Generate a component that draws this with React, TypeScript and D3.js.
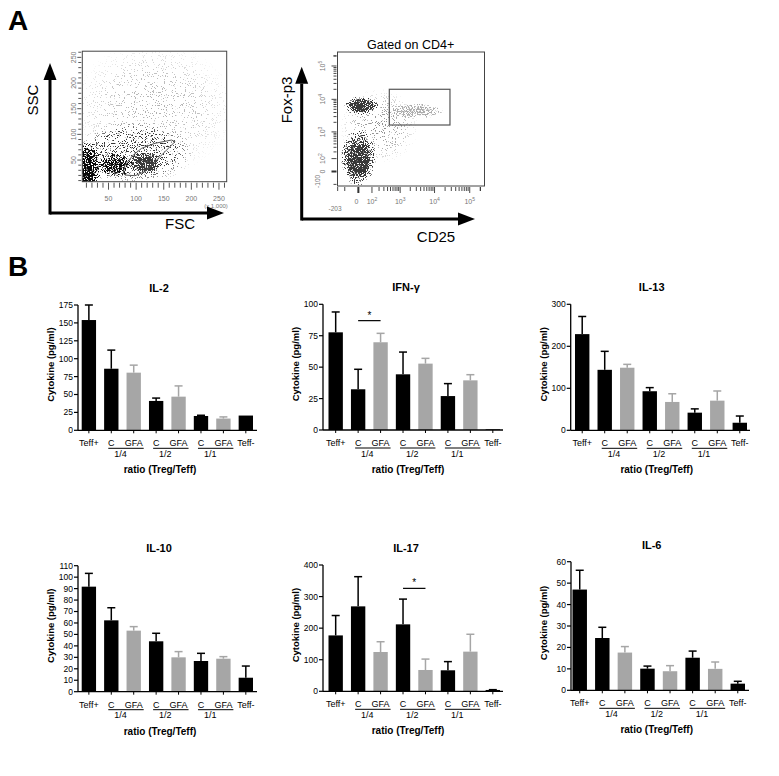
import React from "react";
import * as d3 from "d3";

const FONT = "'Liberation Sans', Arial, Helvetica, sans-serif";

// ---------------- Panel B data ----------------
const groupKeys = ["Teff+", "C 1/4", "GFA 1/4", "C 1/2", "GFA 1/2", "C 1/1", "GFA 1/1", "Teff-"];
const groupLabels = ["Teff+", "C", "GFA", "C", "GFA", "C", "GFA", "Teff-"];
const groupIsGFA = [false, false, true, false, true, false, true, false];
const ratioLabels = ["1/4", "1/2", "1/1"];

const il2Mean = [154, 86, 80.5, 41, 47, 20, 16.4, 20.6];
const il2Err = [21, 26, 10.5, 4, 15, 1, 2.3, 0];
const il2Ticks = [0, 25, 50, 75, 100, 125, 150, 175];

const ifnMean = [77.7, 32.4, 69.8, 44.3, 52.8, 27, 39.5, 0.5];
const ifnErr = [16.2, 15.9, 7.1, 17.7, 4.2, 9.9, 4.5, 0];
const ifnTicks = [0, 25, 50, 75, 100];
const ifnSig = [1, 2, 87];

const il13Mean = [229, 144, 149, 93, 67.5, 42, 70.6, 18];
const il13Err = [42, 44, 8, 8.6, 19.5, 9, 23, 16];
const il13Ticks = [0, 100, 200, 300];

const il10Mean = [91.7, 62.3, 53.3, 44, 30, 26.8, 28.8, 12.2];
const il10Err = [11.6, 11, 3.5, 7, 5, 6.7, 1.8, 10.2];
const il10Ticks = [0, 10, 20, 30, 40, 50, 60, 70, 80, 90, 100, 110];

const il17Mean = [177, 269, 124.5, 212, 67.5, 66.5, 125.6, 4.2];
const il17Err = [63, 94, 32.5, 80, 34.5, 27.5, 55, 1];
const il17Ticks = [0, 100, 200, 300, 400];
const il17Sig = [3, 4, 326];

const il6Mean = [47, 24.4, 17.6, 10.1, 8.9, 15.2, 10, 3.1];
const il6Err = [9, 5, 2.8, 1.2, 2.6, 3.1, 3.2, 1.1];
const il6Ticks = [0, 10, 20, 30, 40, 50, 60];

// ---------------- Panel A data ----------------
// FSC / SSC (x 1,000): cloud centres, spreads, relative density
const fscDenseClusters = [
  [5, 22, 16, 42, 1.0],
  [13, 34, 25, 55, 1.0],
  [62, 40, 35, 24, 0.85],
];
const fscCloudClusters = [
  [116, 44, 32, 24, 1.0],
  [118, 42, 22, 16, 1.0],
  [95, 62, 110, 62, 0.28],
  [130, 150, 150, 130, 0.07],
];
const fscGate = [
  [76.7, 24.1], [79.8, 40.3], [94.8, 59.8], [110, 72.8], [134.1, 82.6], [164.3, 89],
  [170.3, 85.7], [152.2, 66.2], [134.1, 46.7], [116, 27.3], [97.9, 19.5], [79.8, 20.8],
];
const fscTicks = [50, 100, 150, 200, 250];

// CD25 / Foxp3: centres (data), spreads (symlog units), density
const cd25Clusters = [
  [13, 6460, 1.15, 0.65, 1.0],
  [10, 6460, 0.8, 0.45, 1.0],
  [0, 107, 1.15, 2.0, 1.0],
  [0, 60, 0.85, 1.3, 1.0],
  [200, 1500, 2.6, 2.6, 0.1],
];
const cd25GatedClusters = [[2750, 4450, 1.9, 0.55, 0.75]];
const cd25Gate = [457, 27500];
const foxp3Gate = [1650, 20060];

type Layout = {
  axisX: number; axisEnd: number; yTop: number; y0: number; barA: number; barB: number;
  titleX: number; titleY: number; ratioX: number;
};

const L_IL2: Layout = { axisX: 78, axisEnd: 257, yTop: 305, y0: 430.3, barA: 81.7, barB: 253, titleX: 159, titleY: 292, ratioX: 160 };
const L_IFN: Layout = { axisX: 323, axisEnd: 503, yTop: 304.3, y0: 430, barA: 328.5, barB: 500, titleX: 406, titleY: 291, ratioX: 408 };
const L_IL13: Layout = { axisX: 570.7, axisEnd: 750, yTop: 304.3, y0: 430.3, barA: 575, barB: 747, titleX: 651.7, titleY: 291, ratioX: 656.7 };
const L_IL10: Layout = { axisX: 78, axisEnd: 257, yTop: 565.7, y0: 691.7, barA: 81.7, barB: 253, titleX: 159, titleY: 552, ratioX: 160 };
const L_IL17: Layout = { axisX: 323, axisEnd: 503, yTop: 565, y0: 691.3, barA: 328.5, barB: 500, titleX: 406, titleY: 552, ratioX: 408 };
const L_IL6: Layout = { axisX: 571, axisEnd: 749, yTop: 561.7, y0: 690.3, barA: 572.5, barB: 745, titleX: 651.7, titleY: 549, ratioX: 656.7 };

const BLACK = "#000";
const GRAY = "#a6a6a6";

function BarPanel(props: { title: React.ReactNode; mean: number[]; err: number[]; ticks: number[]; sig?: number[]; L: Layout }) {
  const { title, mean, err, ticks, sig, L } = props;
  const y = d3.scaleLinear().domain([0, ticks[ticks.length - 1]]).range([L.y0, L.yTop]);
  const x = d3.scaleBand().domain(groupKeys).range([L.barA, L.barB]).paddingInner(0.36).paddingOuter(0);
  const bw = x.bandwidth();
  const cx = (i: number) => (x(groupKeys[i]) as number) + bw / 2;
  return (
    <g fontFamily={FONT}>
      <text x={L.titleX} y={L.titleY} textAnchor="middle" fontWeight="bold" fontSize={11}>{title}</text>
      {mean.map((m, i) => (
        <rect key={"b" + i} x={x(groupKeys[i])} y={y(m)} width={bw} height={L.y0 - y(m)} fill={groupIsGFA[i] ? GRAY : BLACK} />
      ))}
      {mean.map((m, i) =>
        err[i] > 0.4 ? (
          <g key={"e" + i} stroke={groupIsGFA[i] ? GRAY : BLACK} strokeWidth={1.5}>
            <line x1={cx(i)} x2={cx(i)} y1={y(m)} y2={y(m + err[i])} />
            <line x1={cx(i) - 4} x2={cx(i) + 4} y1={y(m + err[i])} y2={y(m + err[i])} />
          </g>
        ) : null
      )}
      <line x1={L.axisX} x2={L.axisX} y1={L.y0} y2={L.yTop} stroke="#000" strokeWidth={1.3} />
      {ticks.map((t) => (
        <g key={"t" + t}>
          <line x1={L.axisX - 4} x2={L.axisX} y1={y(t)} y2={y(t)} stroke="#000" strokeWidth={1.2} />
          <text x={L.axisX - 5} y={y(t)} dy="0.35em" textAnchor="end" fontSize={8.5}>{t}</text>
        </g>
      ))}
      <line x1={L.axisX} x2={L.axisEnd} y1={L.y0} y2={L.y0} stroke="#000" strokeWidth={1.3} />
      {groupKeys.map((k, i) => (
        <g key={"x" + k}>
          <line x1={cx(i)} x2={cx(i)} y1={L.y0} y2={L.y0 + 3} stroke="#000" strokeWidth={1} />
          <text x={cx(i)} y={L.y0 + 16} textAnchor="middle" fontSize={9}>{groupLabels[i]}</text>
        </g>
      ))}
      {ratioLabels.map((r, g) => {
        const c = cx(1 + 2 * g);
        const f = cx(2 + 2 * g);
        return (
          <g key={"r" + r}>
            <line x1={c - 3} x2={f + 10} y1={L.y0 + 18} y2={L.y0 + 18} stroke="#000" strokeWidth={1} />
            <text x={(c + f) / 2 - 2} y={L.y0 + 26.5} textAnchor="middle" fontSize={9}>{r}</text>
          </g>
        );
      })}
      <text x={L.ratioX} y={L.y0 + 43} textAnchor="middle" fontWeight="bold" fontSize={10}>ratio (Treg/Teff)</text>
      <text
        transform={`translate(${L.axisX - 27},${(L.yTop + L.y0) / 2 - 3}) rotate(-90)`}
        textAnchor="middle"
        dy="0.35em"
        fontWeight="bold"
        fontSize={9.5}
      >
        Cytokine (pg/ml)
      </text>
      {sig ? (
        <g>
          <line x1={cx(sig[0])} x2={cx(sig[1])} y1={y(sig[2])} y2={y(sig[2])} stroke="#000" strokeWidth={1.2} />
          <text x={(cx(sig[0]) + cx(sig[1])) / 2} y={y(sig[2]) - 2} textAnchor="middle" fontSize={10}>*</text>
        </g>
      ) : null}
    </g>
  );
}

function Arrows(props: { ox: number; oy: number; topY: number; rightX: number }) {
  const { ox, oy, topY, rightX } = props;
  const head = 17;
  const hw = 6.5;
  return (
    <g fill="#000" stroke="#000">
      <line x1={ox} x2={ox} y1={oy + 1.5} y2={topY + head} strokeWidth={3} />
      <line x1={ox} x2={rightX - head} y1={oy} y2={oy} strokeWidth={3} />
      <polygon points={`${ox - hw},${topY + head} ${ox + hw},${topY + head} ${ox},${topY}`} stroke="none" />
      <polygon points={`${rightX - head},${oy - hw} ${rightX - head},${oy + hw} ${rightX},${oy}`} stroke="none" />
    </g>
  );
}

function FscPlot() {
  const x = d3.scaleLinear().domain([0, 264]).range([80.9, 226.7]);
  const y = d3.scaleLinear().domain([0, 262]).range([185.7, 51.2]);
  const box = { x0: 82.3, x1: 226.7, y0: 51.2, y1: 181.7 };
  const kx = x(1) - x(0);
  const ky = y(0) - y(1);
  const minor = d3.range(10, 261, 10);
  const gatePath = d3.line()(fscGate.map((p) => [x(p[0]), y(p[1])] as [number, number])) + "Z";
  const blob = (c: number[], i: number) => (
    <ellipse key={i} cx={x(c[0])} cy={y(c[1])} rx={c[2] * kx} ry={c[3] * ky} fill="url(#blob)" opacity={c[4]} />
  );
  return (
    <g fontFamily={FONT}>
      <clipPath id="clipFsc">
        <rect x={box.x0} y={box.y0} width={box.x1 - box.x0} height={box.y1 - box.y0} />
      </clipPath>
      <g clipPath="url(#clipFsc)">
        <g filter="url(#speckMid)">{fscCloudClusters.map(blob)}</g>
        <g filter="url(#speckBlack)">{fscDenseClusters.map(blob)}</g>
      </g>
      <path d={gatePath} fill="none" stroke="#555" strokeWidth={1} />
      <rect x={box.x0} y={box.y0} width={box.x1 - box.x0} height={box.y1 - box.y0} fill="none" stroke="#444" strokeWidth={1} />
      {minor.map((t) => (
        <line key={"xt" + t} x1={x(t)} x2={x(t)} y1={box.y1 + 1} y2={box.y1 + (t % 50 === 0 ? 8 : 6)} stroke="#444" strokeWidth={0.9} />
      ))}
      {minor.map((t) => (
        <line key={"yt" + t} x1={box.x0 - (t % 50 === 0 ? 5 : 4)} x2={box.x0 - 1} y1={y(t)} y2={y(t)} stroke="#444" strokeWidth={0.9} />
      ))}
      {fscTicks.map((t) => (
        <text key={"xl" + t} x={x(t)} y={200.5} textAnchor="middle" fontSize={7} fill="#777">{t}</text>
      ))}
      {fscTicks.map((t) => (
        <text key={"yl" + t} transform={`translate(74,${y(t)}) rotate(-90)`} textAnchor="middle" dy="0.35em" fontSize={7} fill="#777">{t}</text>
      ))}
      <text x={216} y={208} textAnchor="middle" fontSize={6} fill="#777">(x 1,000)</text>
      <Arrows ox={50} oy={213} topY={63} rightX={224} />
      <text transform="translate(33,100) rotate(-90)" textAnchor="middle" dy="0.35em" fontSize={15}>SSC</text>
      <text x={180} y={229} textAnchor="middle" fontSize={15}>FSC</text>
    </g>
  );
}

function Cd25Plot() {
  const C = 70;
  const x = d3.scaleSymlog().constant(C).domain([-203, 262144]).range([337.5, 484.5]);
  const y = d3.scaleSymlog().constant(C).domain([-120, 262144]).range([186, 52]);
  const f = (v: number) => Math.sign(v) * Math.log1p(Math.abs(v) / C);
  const kx = (484.5 - 337.5) / (f(262144) - f(-203));
  const ky = (186 - 52) / (f(262144) - f(-120));
  const box = { x0: 337.5, x1: 484.5, y0: 52, y1: 186 };
  const lin = [-200, -100, 0, 100, 200, 300, 400, 500, 600, 700, 800, 900];
  const logT: number[] = [];
  [1000, 10000, 100000].forEach((d) => [1, 2, 3, 4, 5, 6, 7, 8, 9].forEach((k) => logT.push(k * d)));
  logT.push(200000);
  const xt = lin.concat(logT).filter((v) => v >= -203 && v <= 262144);
  const yt = lin.concat(logT).filter((v) => v >= -120 && v <= 262144);
  const majors = new Set([0, 100, 1000, 10000, 100000]);
  const sup = (p: string) => (
    <>
      10<tspan dy={-3} fontSize={5}>{p}</tspan>
    </>
  );
  const xLabels: [number, React.ReactNode][] = [[0, "0"], [100, sup("2")], [1000, sup("3")], [10000, sup("4")], [100000, sup("5")]];
  const blob = (c: number[], i: number) => (
    <ellipse key={i} cx={x(c[0])} cy={y(c[1])} rx={c[2] * kx} ry={c[3] * ky} fill="url(#blob)" opacity={c[4]} />
  );
  return (
    <g fontFamily={FONT}>
      <text x={410.7} y={48.5} textAnchor="middle" fontSize={12.5}>Gated on CD4+</text>
      <clipPath id="clipCd">
        <rect x={box.x0} y={box.y0} width={box.x1 - box.x0} height={box.y1 - box.y0} />
      </clipPath>
      <g clipPath="url(#clipCd)">
        <g filter="url(#speckDark)">{cd25Clusters.map(blob)}</g>
        <g filter="url(#speckLight)">{cd25GatedClusters.map(blob)}</g>
      </g>
      <rect x={x(cd25Gate[0])} y={y(foxp3Gate[1])} width={x(cd25Gate[1]) - x(cd25Gate[0])} height={y(foxp3Gate[0]) - y(foxp3Gate[1])} fill="none" stroke="#555" strokeWidth={1.2} />
      <rect x={box.x0} y={box.y0} width={box.x1 - box.x0} height={box.y1 - box.y0} fill="none" stroke="#444" strokeWidth={1} />
      {xt.map((t) => (
        <line key={"xt" + t} x1={x(t)} x2={x(t)} y1={box.y1 + 1} y2={box.y1 + (majors.has(t) ? 7 : 5)} stroke="#333" strokeWidth={t === 0 ? 2 : 0.9} />
      ))}
      {yt.map((t) => (
        <line key={"yt" + t} x1={box.x0 - (majors.has(t) ? 6 : 4)} x2={box.x0 - 1} y1={y(t)} y2={y(t)} stroke="#333" strokeWidth={t === 0 ? 2 : 0.9} />
      ))}
      {xLabels.map(([v, lab], i) => (
        <text key={"xl" + i} x={x(v) + (v === 0 ? -2 : 0)} y={204} textAnchor="middle" fontSize={7} fill="#777">{lab}</text>
      ))}
      <text x={335} y={211} textAnchor="middle" fontSize={6.5} fill="#777">-203</text>
      {xLabels.map(([v, lab], i) => (
        <text key={"yl" + i} transform={`translate(323,${y(v)}) rotate(-90)`} textAnchor="middle" dy="0.35em" fontSize={7} fill="#777">{lab}</text>
      ))}
      <text transform={`translate(318,${y(-100) - 3}) rotate(-90)`} textAnchor="middle" dy="0.35em" fontSize={6.5} fill="#777">-100</text>
      <Arrows ox={301.7} oy={219} topY={66.7} rightX={475} />
      <text transform="translate(287,100) rotate(-90)" textAnchor="middle" dy="0.35em" fontSize={15}>Fox-p3</text>
      <text x={436} y={242} textAnchor="middle" fontSize={15}>CD25</text>
    </g>
  );
}

function speckFilter(id: string, gray: number, seed: number) {
  return (
    <filter id={id} filterUnits="userSpaceOnUse" x={0} y={0} width={779} height={776} colorInterpolationFilters="sRGB">
      <feTurbulence type="fractalNoise" baseFrequency={0.9} numOctaves={2} seed={seed} result="noise" />
      <feComponentTransfer in="noise" result="n2">
        <feFuncA type="linear" slope={3} intercept={-1} />
      </feComponentTransfer>
      <feComposite in="SourceGraphic" in2="n2" operator="arithmetic" k1={0} k2={6} k3={6} k4={-6} result="mix" />
      <feColorMatrix in="mix" type="matrix" values={`0 0 0 0 ${gray}  0 0 0 0 ${gray}  0 0 0 0 ${gray}  0 0 0 1 0`} />
    </filter>
  );
}

export default function App() {
  return (
    <svg
      width={779}
      height={776}
      viewBox="0 0 779 776"
      style={{ position: "absolute", left: 0, top: 0, background: "#fff" }}
    >
      <defs>
        <radialGradient id="blob">
          <stop offset="0" stopColor="#000" stopOpacity={1} />
          <stop offset="0.55" stopColor="#000" stopOpacity={0.72} />
          <stop offset="1" stopColor="#000" stopOpacity={0} />
        </radialGradient>
        {speckFilter("speckBlack", 0.03, 7)}
        {speckFilter("speckMid", 0.22, 11)}
        {speckFilter("speckDark", 0.22, 5)}
        {speckFilter("speckLight", 0.68, 9)}
      </defs>
      <rect x={0} y={0} width={779} height={776} fill="#fff" />
      <text x={8} y={30} fontFamily={FONT} fontWeight="bold" fontSize={28}>A</text>
      <text x={8} y={276} fontFamily={FONT} fontWeight="bold" fontSize={28}>B</text>
      <FscPlot />
      <Cd25Plot />
      <BarPanel title="IL-2" mean={il2Mean} err={il2Err} ticks={il2Ticks} L={L_IL2} />
      <BarPanel title="IFN-γ" mean={ifnMean} err={ifnErr} ticks={ifnTicks} sig={ifnSig} L={L_IFN} />
      <BarPanel title="IL-13" mean={il13Mean} err={il13Err} ticks={il13Ticks} L={L_IL13} />
      <BarPanel title="IL-10" mean={il10Mean} err={il10Err} ticks={il10Ticks} L={L_IL10} />
      <BarPanel title="IL-17" mean={il17Mean} err={il17Err} ticks={il17Ticks} sig={il17Sig} L={L_IL17} />
      <BarPanel title="IL-6" mean={il6Mean} err={il6Err} ticks={il6Ticks} L={L_IL6} />
    </svg>
  );
}
